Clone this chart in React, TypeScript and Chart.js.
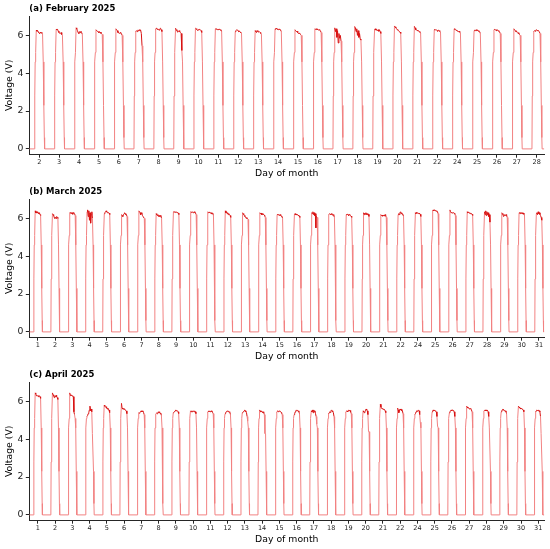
import { useEffect, useRef } from "react";
import { Chart, registerables } from "chart.js";

Chart.register(...registerables);

const FONT = "DejaVu Sans";

// Tick labels (day of month) per panel
const febDays = ["2","3","4","5","6","7","8","9","10","11","12","13","14","15","16","17","18","19","20","21","22","24","25","26","27","28"];
const marDays = ["1","2","3","4","5","6","7","8","9","10","11","12","13","14","15","16","17","18","19","20","21","22","24","25","26","27","28","29","30","31"];
const aprDays = ["1","2","3","4","5","6","7","8","9","10","11","12","13","14","15","16","17","18","19","20","21","22","24","25","26","27","28","29","30","31"];

// Shared shape of sunrise / sunset edges (offset from day tick, in days) and voltages
const riseOffsets = [-0.24, -0.225, -0.205, -0.18];
const riseVolts = [0, 2.8, 4.6, 5.1];
const plateauOffsets = [-0.15, -0.115, -0.08, -0.045, -0.01, 0.025, 0.06, 0.095, 0.13, 0.165];
const fallOffsets = [0.2, 0.23, 0.255, 0.27];
const fallVolts = [4.6, 2.3, 0.6, 0];

// Daytime plateau voltages, one row per day
const febPlateaus = [
  [6.28, 6.22, 6.25, 6.18, 6.12, 6.1, 6.18, 6.12, 6.16, 6.1],
  [6.33, 6.3, 6.32, 6.22, 6.15, 6.12, 6.1, 6.15, 6.05, 6.0],
  [6.4, 6.35, 6.25, 6.15, 6.1, 6.2, 6.15, 6.22, 6.15, 6.05],
  [6.3, 6.25, 6.22, 6.2, 6.15, 6.2, 6.12, 6.18, 6.1, 6.05],
  [6.35, 6.3, 6.25, 6.15, 6.15, 6.1, 6.15, 6.12, 6.1, 6.0],
  [6.2, 6.25, 6.2, 6.28, 6.25, 6.3, 6.25, 6.28, 6.1, 5.45],
  [6.35, 6.38, 6.32, 6.35, 6.3, 6.28, 6.35, 6.38, 6.3, 6.2],
  [6.38, 6.3, 6.25, 6.17, 6.2, 6.25, 6.2, 6.15, 6.1, 5.2],
  [6.38, 6.35, 6.32, 6.26, 6.3, 6.28, 6.32, 6.3, 6.25, 6.15],
  [6.35, 6.33, 6.35, 6.3, 6.32, 6.3, 6.33, 6.28, 6.3, 6.2],
  [6.2, 6.25, 6.3, 6.28, 6.25, 6.2, 6.22, 6.18, 6.15, 6.1],
  [6.25, 6.2, 6.15, 6.25, 6.2, 6.18, 6.2, 6.15, 6.12, 6.05],
  [6.35, 6.33, 6.38, 6.32, 6.35, 6.3, 6.33, 6.3, 6.28, 6.2],
  [6.3, 6.25, 6.2, 6.22, 6.15, 6.1, 6.12, 6.1, 6.05, 6.0],
  [6.35, 6.32, 6.35, 6.3, 6.33, 6.28, 6.3, 6.28, 6.25, 6.15],
  [6.4, 6.2, 6.35, 5.9, 6.25, 5.6, 6.1, 5.85, 6.0, 5.7],
  [6.47, 6.4, 6.2, 6.35, 6.0, 6.25, 5.9, 6.1, 5.8, 5.75],
  [6.3, 6.35, 6.28, 6.3, 6.25, 6.3, 6.22, 6.3, 6.2, 6.1],
  [6.5, 6.45, 6.4, 6.35, 6.3, 6.28, 6.25, 6.2, 6.18, 6.1],
  [6.48, 6.4, 6.3, 6.3, 6.25, 6.28, 6.22, 6.2, 6.18, 6.1],
  [6.3, 6.32, 6.28, 6.3, 6.25, 6.22, 6.28, 6.25, 6.22, 6.15],
  [6.35, 6.32, 6.3, 6.28, 6.25, 6.22, 6.2, 6.22, 6.18, 6.1],
  [6.25, 6.28, 6.25, 6.3, 6.25, 6.28, 6.22, 6.25, 6.2, 6.1],
  [6.3, 6.32, 6.28, 6.3, 6.25, 6.28, 6.25, 6.22, 6.2, 6.1],
  [6.35, 6.3, 6.25, 6.2, 6.22, 6.15, 6.1, 6.15, 6.05, 6.0],
  [6.2, 6.25, 6.22, 6.28, 6.3, 6.25, 6.28, 6.22, 6.2, 6.1],
];

const marPlateaus = [
  [6.4, 6.3, 6.35, 6.28, 6.35, 6.3, 6.25, 6.3, 6.2, 6.15],
  [6.25, 6.2, 6.15, 6.05, 6.0, 6.05, 6.0, 6.1, 6.05, 6.0],
  [6.3, 6.28, 6.32, 6.25, 6.3, 6.22, 6.3, 6.28, 6.25, 6.15],
  [6.35, 6.45, 6.1, 6.4, 5.9, 6.3, 5.75, 6.2, 6.35, 6.0],
  [6.25, 6.3, 6.35, 6.4, 6.35, 6.3, 6.32, 6.3, 6.28, 6.2],
  [6.2, 6.15, 6.1, 6.2, 6.25, 6.3, 6.25, 6.2, 6.2, 6.1],
  [6.4, 6.35, 6.3, 6.2, 6.3, 6.25, 6.15, 6.1, 6.1, 6.0],
  [6.25, 6.2, 6.15, 6.2, 6.1, 6.15, 6.1, 6.15, 6.1, 6.0],
  [6.35, 6.33, 6.35, 6.32, 6.35, 6.33, 6.3, 6.32, 6.28, 6.2],
  [6.35, 6.32, 6.35, 6.33, 6.3, 6.33, 6.35, 6.3, 6.28, 6.2],
  [6.35, 6.3, 6.33, 6.3, 6.28, 6.3, 6.25, 6.28, 6.25, 6.15],
  [6.4, 6.3, 6.35, 6.25, 6.3, 6.2, 6.25, 6.2, 6.15, 6.05],
  [6.3, 6.25, 6.2, 6.15, 6.1, 6.05, 6.0, 6.05, 6.0, 5.95],
  [6.3, 6.25, 6.28, 6.2, 6.25, 6.2, 6.22, 6.18, 6.15, 6.05],
  [6.2, 6.22, 6.18, 6.2, 6.15, 6.2, 6.15, 6.12, 6.1, 6.0],
  [6.2, 6.25, 6.2, 6.22, 6.18, 6.2, 6.15, 6.18, 6.12, 6.05],
  [6.3, 6.25, 6.35, 6.2, 6.3, 6.15, 6.25, 5.5, 6.1, 6.05],
  [6.2, 6.25, 6.22, 6.2, 6.25, 6.2, 6.18, 6.2, 6.15, 6.05],
  [6.2, 6.18, 6.22, 6.2, 6.15, 6.2, 6.18, 6.15, 6.12, 6.05],
  [6.3, 6.2, 6.28, 6.22, 6.3, 6.2, 6.25, 6.2, 6.22, 6.1],
  [6.2, 6.15, 6.18, 6.12, 6.15, 6.18, 6.12, 6.2, 6.15, 6.05],
  [6.2, 6.25, 6.2, 6.3, 6.35, 6.25, 6.3, 6.22, 6.2, 6.1],
  [6.3, 6.25, 6.32, 6.28, 6.3, 6.25, 6.28, 6.25, 6.22, 6.1],
  [6.4, 6.45, 6.4, 6.45, 6.42, 6.4, 6.38, 6.4, 6.35, 6.25],
  [6.45, 6.35, 6.3, 6.32, 6.28, 6.3, 6.3, 6.28, 6.25, 6.15],
  [6.35, 6.3, 6.32, 6.28, 6.3, 6.25, 6.28, 6.25, 6.22, 6.15],
  [6.35, 6.2, 6.4, 6.15, 6.35, 6.2, 6.3, 6.1, 6.2, 5.8],
  [6.3, 6.25, 6.2, 6.1, 6.15, 6.2, 6.15, 6.2, 6.15, 6.05],
  [6.3, 6.28, 6.3, 6.25, 6.28, 6.3, 6.25, 6.28, 6.22, 6.15],
  [6.25, 6.3, 6.2, 6.35, 6.25, 6.3, 6.2, 6.15, 6.05, 5.9],
];

const aprPlateaus = [
  [6.45, 6.4, 6.3, 6.32, 6.28, 6.3, 6.25, 6.28, 6.25, 6.15],
  [6.45, 6.35, 6.3, 6.2, 6.3, 6.25, 6.32, 6.25, 6.2, 6.1],
  [6.45, 6.35, 6.3, 6.32, 6.28, 6.3, 6.25, 5.45, 5.3, 5.1],
  [5.2, 5.25, 5.35, 5.4, 5.55, 5.75, 5.5, 5.6, 5.45, 4.3],
  [5.8, 5.75, 5.7, 5.72, 5.65, 5.6, 5.65, 5.55, 5.55, 5.4],
  [5.9, 5.65, 5.6, 5.62, 5.58, 5.6, 5.55, 5.55, 5.5, 5.35],
  [5.4, 5.38, 5.42, 5.45, 5.5, 5.45, 5.5, 5.45, 5.42, 5.3],
  [5.35, 5.38, 5.35, 5.4, 5.45, 5.4, 5.45, 5.35, 5.38, 5.25],
  [5.4, 5.42, 5.45, 5.5, 5.55, 5.5, 5.52, 5.5, 5.45, 5.35],
  [5.5, 5.45, 5.5, 5.45, 5.5, 5.48, 5.45, 5.5, 5.45, 5.35],
  [5.45, 5.48, 5.45, 5.5, 5.45, 5.48, 5.5, 5.45, 5.42, 5.35],
  [5.35, 5.4, 5.45, 5.48, 5.5, 5.45, 5.48, 5.45, 5.42, 5.3],
  [5.4, 5.42, 5.45, 5.5, 5.55, 5.5, 5.45, 5.4, 5.2, 4.95],
  [5.55, 5.5, 5.45, 5.48, 5.45, 5.4, 5.45, 5.4, 5.3, 4.3],
  [5.45, 5.48, 5.5, 5.45, 5.48, 5.5, 5.45, 5.42, 5.4, 5.3],
  [5.3, 5.35, 5.45, 5.5, 5.55, 5.5, 5.52, 5.5, 5.45, 5.35],
  [5.5, 5.45, 5.55, 5.4, 5.55, 5.45, 5.5, 5.35, 5.2, 4.8],
  [5.35, 5.4, 5.45, 5.42, 5.5, 5.55, 5.5, 5.45, 5.4, 5.2],
  [5.45, 5.48, 5.5, 5.45, 5.5, 5.55, 5.5, 5.52, 5.45, 5.35],
  [5.5, 5.45, 5.4, 5.45, 5.5, 5.6, 5.55, 5.5, 5.3, 4.4],
  [5.85, 5.7, 5.65, 5.6, 5.62, 5.58, 5.6, 5.55, 5.5, 5.4],
  [5.65, 5.55, 5.4, 5.5, 5.6, 5.55, 5.58, 5.5, 5.5, 5.35],
  [5.3, 5.35, 5.45, 5.5, 5.48, 5.5, 5.55, 5.5, 5.3, 4.9],
  [5.45, 5.5, 5.55, 5.5, 5.52, 5.5, 5.48, 5.45, 5.2, 4.7],
  [5.4, 5.45, 5.5, 5.55, 5.5, 5.55, 5.52, 5.5, 5.45, 5.2],
  [5.75, 5.7, 5.65, 5.65, 5.62, 5.6, 5.62, 5.6, 5.55, 5.45],
  [5.5, 5.52, 5.55, 5.5, 5.55, 5.5, 5.52, 5.45, 5.2, 4.6],
  [5.45, 5.5, 5.55, 5.6, 5.55, 5.5, 5.52, 5.5, 5.45, 5.35],
  [5.75, 5.7, 5.65, 5.65, 5.6, 5.62, 5.6, 5.58, 5.55, 5.45],
  [5.45, 5.5, 5.55, 5.52, 5.5, 5.55, 5.5, 5.45, 5.2, 4.3],
];

const yTicks = [0, 2, 4, 6];

type Panel = {
  title: string;
  labels: string[];
  plateaus: number[][];
  xMin: number;
  xMax: number;
};

const panels: Panel[] = [
  { title: "(a) February 2025", labels: febDays, plateaus: febPlateaus, xMin: -0.5, xMax: 25.38 },
  { title: "(b) March 2025", labels: marDays, plateaus: marPlateaus, xMin: -0.49, xMax: 29.31 },
  { title: "(c) April 2025", labels: aprDays, plateaus: aprPlateaus, xMin: -0.49, xMax: 29.35 },
];

function buildSeries(p: Panel) {
  const pts: { x: number; y: number }[] = [{ x: p.xMin, y: 0 }];
  p.plateaus.forEach((day, i) => {
    riseOffsets.forEach((o, k) => pts.push({ x: i + o, y: riseVolts[k] }));
    plateauOffsets.forEach((o, k) => pts.push({ x: i + o, y: day[k] }));
    const last = day[day.length - 1];
    fallOffsets.forEach((o, k) => pts.push({ x: i + o, y: Math.min(fallVolts[k], last) }));
  });
  pts.push({ x: p.xMax, y: 0 });
  return pts;
}

const LIGHT = "rgb(242, 130, 130)";
const DARK = "rgb(216, 18, 18)";
const AXIS = "#262626";

function PanelChart({ panel, top }: { panel: Panel; top: number }) {
  const ref = useRef<HTMLCanvasElement | null>(null);
  useEffect(() => {
    if (!ref.current) return;
    const titlePlugin = {
      id: "panelTitle",
      afterDraw(chart: any) {
        const ctx = chart.ctx;
        ctx.save();
        ctx.font = `bold 8.5px "${FONT}"`;
        ctx.fillStyle = "#000";
        ctx.textBaseline = "middle";
        ctx.textAlign = "left";
        ctx.fillText(panel.title, chart.chartArea.left, 8.8);
        ctx.restore();
      },
    };
    const chart = new Chart(ref.current, {
      type: "line",
      data: {
        datasets: [
          {
            data: buildSeries(panel),
            borderColor: LIGHT,
            borderWidth: 1,
            pointRadius: 0,
            tension: 0,
            fill: false,
            segment: {
              borderColor: (c: any) => (c.p0.parsed.y > 5.15 && c.p1.parsed.y > 5.15 ? DARK : LIGHT),
            },
          },
        ],
      },
      options: {
        animation: false,
        responsive: false,
        devicePixelRatio: 1,
        layout: { padding: { top: 16.5, left: 0, right: 5.7, bottom: 0 } },
        plugins: { legend: { display: false }, tooltip: { enabled: false }, title: { display: false } },
        scales: {
          x: {
            type: "linear",
            min: panel.xMin,
            max: panel.xMax,
            afterFit: (s: any) => { s.height = 28.8; },
            afterBuildTicks: (s: any) => { s.ticks = panel.labels.map((_, i) => ({ value: i })); },
            ticks: {
              autoSkip: false,
              maxRotation: 0,
              padding: 1,
              color: "#222",
              font: { family: FONT, size: 6.5 },
              callback: (v: any) => panel.labels[Math.round(Number(v))] ?? "",
            },
            grid: { drawOnChartArea: false, drawTicks: true, tickLength: 3.5, color: AXIS },
            border: { display: true, color: AXIS, width: 1 },
            title: {
              display: true,
              text: "Day of month",
              color: "#000",
              font: { family: FONT, size: 9.3 },
              padding: { top: 0, bottom: 4 },
            },
          },
          y: {
            min: -0.28,
            max: 7,
            afterFit: (s: any) => { s.width = 29.3; },
            afterBuildTicks: (s: any) => { s.ticks = yTicks.map((v) => ({ value: v })); },
            ticks: {
              padding: 2.3,
              color: "#222",
              font: { family: FONT, size: 9.3 },
              callback: (v: any) => String(v),
            },
            grid: { drawOnChartArea: false, drawTicks: true, tickLength: 3.5, color: AXIS },
            border: { display: true, color: AXIS, width: 1 },
            title: {
              display: true,
              text: "Voltage (V)",
              color: "#000",
              font: { family: FONT, size: 9.3 },
              padding: { top: 4.4, bottom: 0 },
            },
          },
        },
      },
      plugins: [titlePlugin],
    } as any);
    return () => chart.destroy();
  }, [panel]);
  return (
    <canvas
      ref={ref}
      width={550}
      height={183}
      style={{ position: "absolute", left: 0, top, width: 550, height: 183 }}
    />
  );
}

export default function App() {
  return (
    <div style={{ position: "absolute", left: 0, top: 0, width: 550, height: 549, background: "#fff" }}>
      {panels.map((p, i) => (
        <PanelChart key={p.title} panel={p} top={i * 183} />
      ))}
    </div>
  );
}
